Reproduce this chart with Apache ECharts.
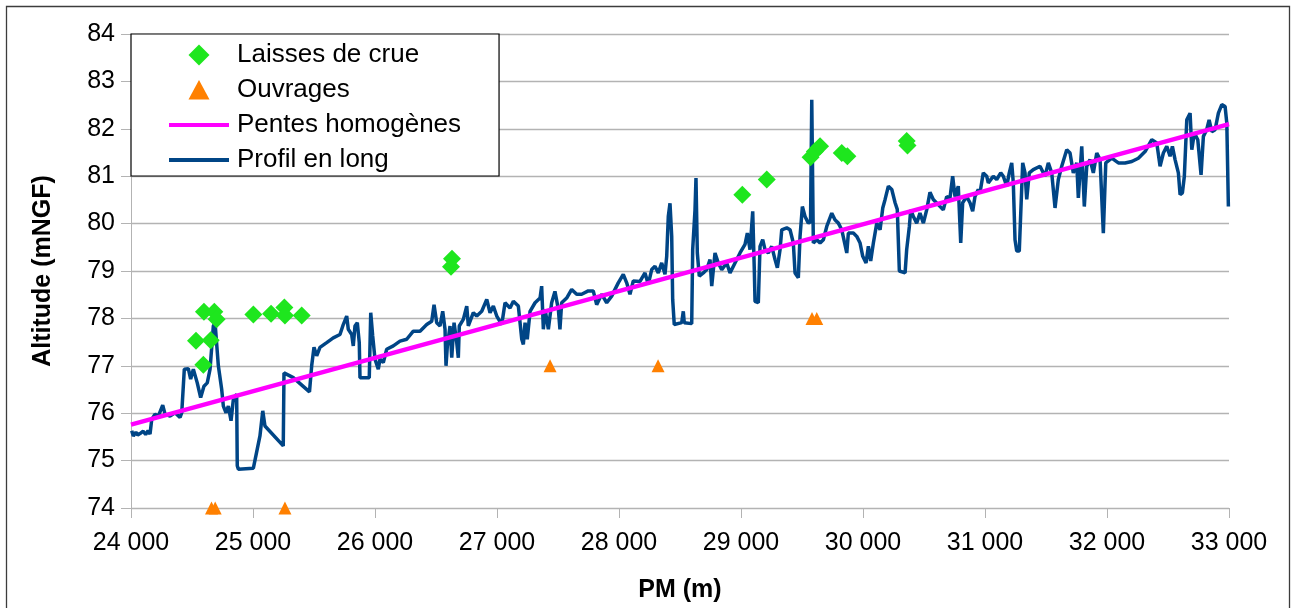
<!DOCTYPE html>
<html>
<head>
<meta charset="utf-8">
<script src="https://cdn.jsdelivr.net/npm/echarts@6/dist/echarts.min.js"></script>
<style>
html,body{margin:0;padding:0;background:#fff;}
#chart{width:1292px;height:608px;}
</style>
</head>
<body>
<div id="chart"></div>
<script>
// Laisses de crue [PM (m), altitude]
const laissesDeCrue = [
  [24533,77.53],[24593,77.02],[24598,78.14],[24653,77.54],[24683,78.14],[24702,77.98],
  [25003,78.08],[25148,78.10],[25257,78.23],[25262,78.06],[25399,78.06],
  [26623,79.09],[26631,79.26],
  [29011,80.61],[29211,80.93],
  [29570,81.40],[29605,81.52],[29648,81.63],[29826,81.49],[29872,81.42],
  [30358,81.74],[30365,81.65]
];
// Ouvrages
const ouvrages = [
  [24660,74],[24690,74],[25262,74],[27435,77],[28320,77],[29582,78],[29621,78]
];
// Pentes homogènes
const pentesHomogenes = [[24000,75.76],[33000,82.10]];
// Profil en long
const profilEnLong = [
  [24006,75.63],[24019,75.52],[24040,75.60],[24055,75.54],[24074,75.57],[24100,75.62],[24120,75.55],[24140,75.63],[24156,75.56],[24170,75.87],[24197,75.98],[24224,75.94],
  [24260,76.17],[24279,75.98],[24320,75.94],[24361,76.01],[24402,75.91],[24416,76.01],[24437,76.93],
  [24470,76.94],[24489,76.72],[24511,76.93],[24543,76.64],[24571,76.33],[24598,76.57],[24625,76.64],
  [24648,76.93],[24675,77.84],[24689,77.91],[24716,77.00],[24743,76.51],[24757,76.15],[24779,76.01],
  [24798,76.15],[24820,75.84],[24839,76.29],[24866,76.40],[24871,74.89],[24880,74.82],[25003,74.84],
  [25057,75.52],[25080,76.05],[25098,75.73],[25248,75.31],[25254,76.85],[25330,76.75],[25463,76.45],
  [25481,77.00],[25500,77.39],[25522,77.21],[25549,77.39],[25604,77.49],[25658,77.59],[25713,77.66],
  [25740,77.87],[25768,78.05],[25781,77.77],[25809,77.66],[25822,77.42],[25836,77.84],[25855,77.91],
  [25871,77.49],[25877,76.75],[25953,76.75],[25965,78.12],[25981,77.63],[26000,77.14],[26027,76.93],
  [26041,77.14],[26068,77.07],[26096,77.35],[26150,77.42],[26205,77.52],[26260,77.56],[26314,77.73],
  [26369,77.73],[26424,77.87],[26465,77.94],[26484,78.29],[26506,77.91],[26533,77.84],[26555,78.15],
  [26574,77.77],[26582,77.00],[26593,77.42],[26615,77.84],[26629,77.17],[26648,77.91],[26670,77.49],
  [26683,77.17],[26691,77.84],[26724,77.98],[26752,78.26],[26765,77.84],[26806,78.12],[26834,78.05],
  [26875,78.15],[26916,78.40],[26943,78.12],[26970,78.26],[26998,78.05],[27039,77.87],[27066,78.33],
  [27107,78.22],[27134,78.36],[27175,78.26],[27203,77.56],[27216,77.45],[27230,77.91],[27248,77.56],
  [27271,78.15],[27312,78.33],[27353,78.43],[27366,78.68],[27380,77.77],[27394,78.19],[27421,77.77],
  [27448,78.33],[27475,78.57],[27503,78.19],[27516,77.77],[27530,78.33],[27571,78.43],[27612,78.61],
  [27653,78.51],[27694,78.51],[27748,78.58],[27789,78.58],[27817,78.29],[27858,78.51],[27899,78.33],
  [27940,78.47],[27994,78.75],[28035,78.93],[28063,78.75],[28090,78.51],[28117,78.79],[28172,78.78],
  [28213,78.96],[28240,78.72],[28268,79.03],[28295,79.10],[28322,78.96],[28350,79.17],[28377,78.93],
  [28391,79.31],[28404,80.15],[28418,80.43],[28432,79.73],[28440,78.40],[28453,77.87],[28514,77.91],
  [28527,78.15],[28535,77.91],[28596,77.89],[28604,79.45],[28623,80.29],[28631,80.96],[28642,79.38],
  [28658,78.89],[28691,78.96],[28719,79.03],[28746,79.24],[28760,78.68],[28787,79.38],[28814,79.17],
  [28842,79.03],[28883,79.17],[28910,78.96],[28951,79.17],[28992,79.38],[29033,79.56],[29052,79.80],
  [29074,79.45],[29096,80.26],[29109,79.03],[29115,78.36],[29142,78.33],[29156,79.52],[29178,79.66],
  [29197,79.45],[29224,79.38],[29252,79.52],[29279,79.24],[29298,79.07],[29320,79.45],[29334,79.87],
  [29375,79.91],[29402,79.87],[29429,79.59],[29443,78.96],[29470,78.86],[29484,79.73],[29503,80.36],
  [29525,80.15],[29552,80.01],[29570,80.04],[29580,82.61],[29593,79.59],[29621,79.66],[29648,79.59],
  [29675,79.66],[29703,79.94],[29744,80.22],[29770,80.08],[29798,80.01],[29826,79.87],[29867,79.38],
  [29880,79.80],[29921,79.80],[29949,79.73],[29976,79.59],[29998,79.31],[30025,79.17],[30044,79.52],
  [30063,79.21],[30085,79.59],[30113,80.01],[30140,79.87],[30162,80.33],[30181,80.51],[30208,80.79],
  [30236,80.72],[30263,80.44],[30281,80.30],[30298,79.00],[30345,78.96],[30358,79.45],[30380,79.94],
  [30391,80.29],[30413,80.15],[30440,80.01],[30467,80.22],[30495,80.01],[30522,80.29],[30549,80.66],
  [30576,80.51],[30617,80.40],[30658,80.29],[30686,80.57],[30713,80.54],[30735,81.00],[30754,80.57],
  [30781,80.79],[30801,79.59],[30817,80.44],[30850,80.57],[30877,80.44],[30899,80.26],[30918,80.57],
  [30945,80.72],[30959,80.65],[30986,81.07],[31014,81.00],[31027,80.86],[31068,81.00],[31096,80.93],
  [31129,81.07],[31150,81.00],[31178,80.79],[31199,81.07],[31219,81.28],[31232,80.86],[31246,79.66],
  [31260,79.42],[31281,79.42],[31293,80.22],[31309,81.28],[31328,81.07],[31342,80.51],[31363,81.07],
  [31396,81.14],[31451,81.21],[31492,81.00],[31519,81.28],[31547,81.07],[31574,80.33],[31601,80.93],
  [31629,81.21],[31670,81.56],[31697,81.49],[31724,81.07],[31752,81.28],[31765,80.54],[31793,81.63],
  [31814,80.36],[31834,81.21],[31861,81.35],[31888,81.07],[31916,81.49],[31943,81.35],[31970,79.80],
  [31990,81.28],[32039,81.38],[32093,81.28],[32148,81.28],[32203,81.31],[32257,81.38],[32312,81.52],
  [32367,81.77],[32408,81.70],[32435,81.21],[32462,81.49],[32490,81.63],[32517,81.42],[32536,81.63],
  [32558,81.35],[32585,81.07],[32599,80.61],[32618,80.65],[32634,81.00],[32654,82.19],[32681,82.33],
  [32695,81.56],[32716,81.91],[32744,81.77],[32771,81.03],[32790,81.84],[32817,81.98],[32837,82.19],
  [32859,81.94],[32886,81.98],[32913,82.33],[32941,82.51],[32968,82.47],[32982,82.12],[32995,80.36]
];
const seriesNames = ['Laisses de crue','Ouvrages','Pentes homogènes','Profil en long'];
const xTickLabel = v => (v/1000) + ' 000';

// legend icons (60x21 box, invisible corner points keep the box size)
const box = 'M0,0 L0,0 M60,21 L60,21 ';
const iconDiamond = 'path://' + box + 'M30,0 L40.5,10.5 L30,21 L19.5,10.5 Z';
const iconTriangle = 'path://' + box + 'M30,0.5 L40.5,20 L19.5,20 Z';
const iconLine = 'path://' + box + 'M0,8.5 L60,8.5 L60,12.5 L0,12.5 Z';

const chart = echarts.init(document.getElementById('chart'), null, {renderer:'canvas'});
const font = 'Liberation Sans, Arial, sans-serif';
chart.setOption({
  animation:false,
  backgroundColor:'#ffffff',
  textStyle:{fontFamily:font},
  graphic:[{
    type:'rect', silent:true, z:-10,
    shape:{x:6.5,y:6.5,width:1283,height:620},
    style:{fill:'none',stroke:'#3c3c3c',lineWidth:1.3}
  }],
  grid:{left:131,right:63,top:34,bottom:99},
  xAxis:{
    type:'value', min:24000, max:33000, interval:1000,
    name:'PM (m)', nameLocation:'middle', nameGap:70,
    nameTextStyle:{fontSize:25,fontWeight:'bold',color:'#000',fontFamily:font},
    axisLine:{show:true,onZero:false,lineStyle:{color:'#b3b3b3',width:1}},
    axisTick:{show:true,length:10,lineStyle:{color:'#b3b3b3'}},
    axisLabel:{formatter:xTickLabel,fontSize:25,color:'#000',margin:23,fontFamily:font},
    splitLine:{show:false}
  },
  yAxis:{
    type:'value', min:74, max:84, interval:1,
    name:'Altitude (mNGF)', nameLocation:'middle', nameGap:75,
    nameTextStyle:{fontSize:25,fontWeight:'bold',color:'#000',fontFamily:font},
    axisLine:{show:true,lineStyle:{color:'#b3b3b3',width:1}},
    axisTick:{show:true,length:10,lineStyle:{color:'#b3b3b3'}},
    axisLabel:{fontSize:25,color:'#000',margin:16,fontFamily:font},
    splitLine:{show:true,lineStyle:{color:'#b3b3b3',width:1.3}}
  },
  legend:{
    orient:'vertical', left:131, top:34,
    padding:[8,38,3,38], itemGap:9, itemWidth:60, itemHeight:21,
    backgroundColor:'#fff', borderColor:'#000', borderWidth:1.2,
    textStyle:{fontSize:26,color:'#000',fontFamily:font,padding:[0,0,0,3]},
    data:[
      {name:seriesNames[0], icon:iconDiamond, itemStyle:{color:'#1ee61e',opacity:1}},
      {name:seriesNames[1], icon:iconTriangle, itemStyle:{color:'#ff8000',opacity:1}},
      {name:seriesNames[2], icon:iconLine, itemStyle:{color:'#ff00ff',opacity:1}},
      {name:seriesNames[3], icon:iconLine, itemStyle:{color:'#004586',opacity:1}}
    ]
  },
  series:[
    {name:seriesNames[3], type:'line', data:profilEnLong, symbol:'none', showSymbol:false,
     lineStyle:{color:'#004586',width:3.5}, itemStyle:{color:'#004586'}, z:2},
    {name:seriesNames[2], type:'line', data:pentesHomogenes, symbol:'none', showSymbol:false,
     lineStyle:{color:'#ff00ff',width:4.5}, itemStyle:{color:'#ff00ff'}, z:3},
    {name:seriesNames[1], type:'scatter', data:ouvrages, symbol:'triangle', symbolSize:13, clip:false,
     itemStyle:{color:'#ff8000',opacity:1}, z:4},
    {name:seriesNames[0], type:'scatter', data:laissesDeCrue, symbol:'diamond', symbolSize:18, clip:false,
     itemStyle:{color:'#1ee61e',opacity:1}, z:5}
  ]
});
</script>
</body>
</html>
